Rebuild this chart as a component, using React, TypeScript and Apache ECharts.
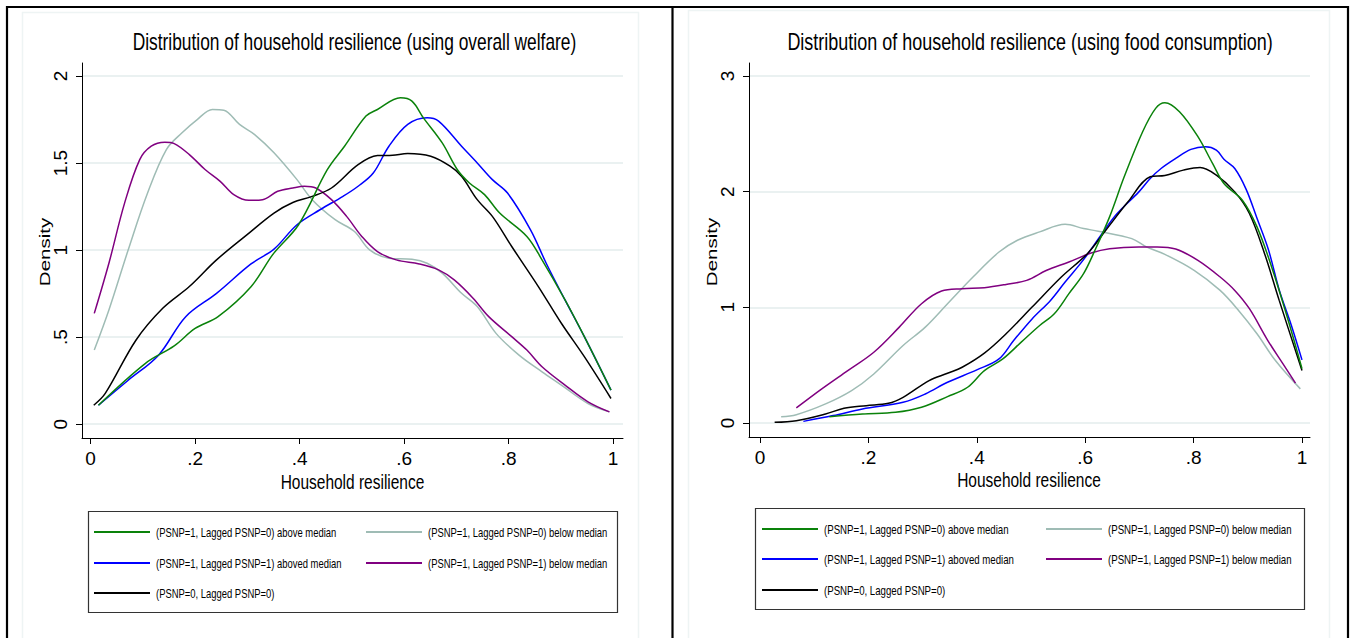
import React, { useEffect, useRef } from "react";
import * as echarts from "echarts";

// ---------- Data ----------
const xTicks = [0, 0.2, 0.4, 0.6, 0.8, 1];
const yTicksWelfare = [0, 0.5, 1, 1.5, 2];
const yTicksFood = [0, 1, 2, 3];

const seriesNames = [
  "(PSNP=1, Lagged PSNP=0) above median",
  "(PSNP=1, Lagged PSNP=0) below median",
  "(PSNP=1, Lagged PSNP=1) aboved median",
  "(PSNP=1, Lagged PSNP=1) below median",
  "(PSNP=0, Lagged PSNP=0)",
];
const seriesColors = ["#0a820a", "#9fbcb5", "#0000ff", "#800080", "#000000"];

// Left panel: overall welfare
const welfareGreenAbove = [
  [0.015, 0.109], [0.105, 0.35], [0.16, 0.45], [0.2, 0.55], [0.244, 0.618], [0.307, 0.79],
  [0.35, 0.98], [0.398, 1.146], [0.453, 1.462], [0.486, 1.597], [0.527, 1.77], [0.549, 1.808],
  [0.593, 1.875], [0.615, 1.856], [0.637, 1.76], [0.673, 1.616], [0.702, 1.462], [0.725, 1.386],
  [0.754, 1.319], [0.783, 1.213], [0.835, 1.079], [0.864, 0.944], [0.908, 0.714], [0.945, 0.503],
  [0.996, 0.196],
];
const welfareGrayBelow = [
  [0.007, 0.426], [0.035, 0.656], [0.072, 1.002], [0.109, 1.328], [0.145, 1.578], [0.175, 1.674],
  [0.204, 1.75], [0.233, 1.808], [0.255, 1.804], [0.285, 1.722], [0.314, 1.664], [0.351, 1.559],
  [0.395, 1.405], [0.424, 1.29], [0.468, 1.175], [0.505, 1.107], [0.534, 1.002], [0.571, 0.954],
  [0.615, 0.948], [0.644, 0.925], [0.673, 0.868], [0.71, 0.752], [0.74, 0.676], [0.776, 0.522],
  [0.82, 0.397], [0.864, 0.301], [0.901, 0.225], [0.952, 0.119], [0.993, 0.071],
];
const welfareBlueAbove = [
  [0.015, 0.109], [0.072, 0.253], [0.13, 0.397], [0.182, 0.618], [0.241, 0.752], [0.307, 0.921],
  [0.351, 1.006], [0.395, 1.146], [0.439, 1.232], [0.483, 1.309], [0.512, 1.367], [0.541, 1.443],
  [0.571, 1.597], [0.607, 1.722], [0.644, 1.76], [0.666, 1.741], [0.71, 1.597], [0.74, 1.501],
  [0.769, 1.405], [0.798, 1.328], [0.842, 1.117], [0.872, 0.925], [0.908, 0.714], [0.945, 0.503],
  [0.996, 0.196],
];
const welfarePurpleBelow = [
  [0.007, 0.637], [0.035, 0.925], [0.065, 1.27], [0.094, 1.52], [0.116, 1.597], [0.142, 1.62],
  [0.16, 1.612], [0.189, 1.549], [0.219, 1.463], [0.248, 1.395], [0.274, 1.319], [0.303, 1.286],
  [0.329, 1.29], [0.358, 1.338], [0.387, 1.357], [0.409, 1.367], [0.431, 1.357], [0.461, 1.29],
  [0.49, 1.194], [0.519, 1.079], [0.549, 0.992], [0.585, 0.944], [0.629, 0.921], [0.666, 0.887],
  [0.696, 0.829], [0.732, 0.724], [0.762, 0.618], [0.806, 0.503], [0.835, 0.426], [0.864, 0.33],
  [0.908, 0.225], [0.952, 0.129], [0.993, 0.071],
];
const welfareBlack = [
  [0.006, 0.109], [0.028, 0.177], [0.087, 0.484], [0.138, 0.666], [0.189, 0.791], [0.241, 0.944],
  [0.299, 1.088], [0.351, 1.213], [0.387, 1.274], [0.424, 1.309], [0.461, 1.357], [0.512, 1.491],
  [0.549, 1.543], [0.578, 1.545], [0.607, 1.555], [0.651, 1.539], [0.688, 1.482], [0.71, 1.424],
  [0.74, 1.29], [0.769, 1.194], [0.806, 1.021], [0.857, 0.791], [0.901, 0.58], [0.945, 0.388],
  [0.996, 0.148],
];

// Right panel: food consumption
const foodGreenAbove = [
  [0.128, 0.055], [0.189, 0.078], [0.25, 0.092], [0.298, 0.136], [0.346, 0.228], [0.383, 0.309],
  [0.414, 0.453], [0.448, 0.554], [0.482, 0.699], [0.516, 0.843], [0.543, 0.944], [0.57, 1.118],
  [0.597, 1.291], [0.618, 1.493], [0.645, 1.782], [0.672, 2.128], [0.706, 2.518], [0.73, 2.72],
  [0.747, 2.769], [0.774, 2.691], [0.808, 2.475], [0.835, 2.244], [0.856, 2.07], [0.89, 1.926],
  [0.917, 1.695], [0.944, 1.349], [0.971, 0.944], [1.0, 0.47],
];
const foodGrayBelow = [
  [0.039, 0.055], [0.067, 0.072], [0.121, 0.165], [0.169, 0.28], [0.21, 0.424], [0.264, 0.67],
  [0.305, 0.829], [0.346, 1.031], [0.393, 1.262], [0.441, 1.478], [0.475, 1.58], [0.516, 1.652],
  [0.563, 1.718], [0.597, 1.681], [0.624, 1.658], [0.686, 1.594], [0.713, 1.522], [0.747, 1.458],
  [0.801, 1.32], [0.849, 1.146], [0.883, 0.973], [0.917, 0.771], [0.951, 0.54], [0.997, 0.295],
];
const foodBlueAbove = [
  [0.08, 0.014], [0.135, 0.064], [0.189, 0.121], [0.264, 0.179], [0.305, 0.251], [0.346, 0.352],
  [0.4, 0.459], [0.441, 0.554], [0.468, 0.713], [0.502, 0.9], [0.536, 1.06], [0.563, 1.219],
  [0.597, 1.412], [0.631, 1.637], [0.659, 1.811], [0.699, 1.998], [0.72, 2.114], [0.74, 2.2],
  [0.767, 2.287], [0.795, 2.365], [0.822, 2.388], [0.842, 2.359], [0.856, 2.28], [0.876, 2.2],
  [0.897, 2.02], [0.917, 1.77], [0.938, 1.5], [0.958, 1.15], [0.98, 0.85], [1.0, 0.546],
];
const foodPurpleBelow = [
  [0.067, 0.13], [0.114, 0.295], [0.162, 0.453], [0.21, 0.612], [0.257, 0.829], [0.298, 1.031],
  [0.335, 1.141], [0.373, 1.161], [0.414, 1.17], [0.454, 1.198], [0.492, 1.233], [0.529, 1.32],
  [0.57, 1.392], [0.611, 1.47], [0.645, 1.507], [0.699, 1.522], [0.733, 1.522], [0.767, 1.504],
  [0.808, 1.406], [0.849, 1.262], [0.876, 1.146], [0.903, 0.988], [0.937, 0.713], [0.965, 0.511],
  [0.988, 0.344],
];
const foodBlack = [
  [0.027, 0.006], [0.067, 0.02], [0.121, 0.078], [0.155, 0.127], [0.196, 0.15], [0.237, 0.17],
  [0.264, 0.222], [0.312, 0.367], [0.346, 0.43], [0.373, 0.482], [0.414, 0.604], [0.454, 0.771],
  [0.502, 1.002], [0.556, 1.262], [0.604, 1.464], [0.638, 1.666], [0.679, 1.912], [0.72, 2.128],
  [0.747, 2.14], [0.781, 2.186], [0.812, 2.209], [0.842, 2.143], [0.876, 1.998], [0.903, 1.811],
  [0.931, 1.464], [0.958, 1.06], [1.0, 0.453],
];

const welfareData = [welfareGreenAbove, welfareGrayBelow, welfareBlueAbove, welfarePurpleBelow, welfareBlack];
const foodData = [foodGreenAbove, foodGrayBelow, foodBlueAbove, foodPurpleBelow, foodBlack];

const titleWelfare = "Distribution of household resilience (using overall welfare)";
const titleFood = "Distribution of household resilience (using food consumption)";
const xName = "Household resilience";
const yName = "Density";

// ---------- Styling ----------
const FONT = "'Liberation Sans', Arial, Helvetica, sans-serif";
const GRID_COLOR = "#e3eded";
const SQUASH = 0.755; // horizontal compression of the original export

const fmt = (v: number) => {
  if (v === 0) return "0";
  const s = String(Math.round(v * 1000) / 1000);
  return s.startsWith("0.") ? s.slice(1) : s;
};

export default function App() {
  const ref = useRef<HTMLDivElement>(null);

  useEffect(() => {
    if (!ref.current) return;
    const chart = echarts.init(ref.current, null, { renderer: "svg" });

    const panels = [
      { grid: { left: 82, top: 63, width: 541, height: 375 }, xmin: -0.0165, xmax: 1.019, ymin: -0.079, ymax: 2.075, yTicks: yTicksWelfare, data: welfareData },
      { grid: { left: 749, top: 63, width: 561, height: 374 }, xmin: -0.0203, xmax: 1.0148, ymin: -0.121, ymax: 3.112, yTicks: yTicksFood, data: foodData },
    ];

    const axisText = { fontFamily: FONT, fontSize: 19, color: "#000" };

    const xAxis = panels.map((p, i) => ({
      type: "value",
      gridIndex: i,
      min: p.xmin,
      max: p.xmax,
      axisLine: { show: true, onZero: false, lineStyle: { color: "#000", width: 1 } },
      axisTick: { show: true, length: 6, customValues: xTicks, lineStyle: { color: "#000" } },
      axisLabel: { show: true, customValues: xTicks, formatter: fmt, margin: 11, ...axisText },
      splitLine: { show: false },
    }));

    const yAxis = panels.map((p, i) => ({
      type: "value",
      gridIndex: i,
      min: p.ymin,
      max: p.ymax,
      axisLine: { show: true, onZero: false, lineStyle: { color: "#000", width: 1 } },
      axisTick: { show: true, length: 6, customValues: p.yTicks, lineStyle: { color: "#000" } },
      axisLabel: { show: true, customValues: p.yTicks, formatter: fmt, rotate: 90, margin: 12, ...axisText },
      splitLine: { show: true, lineStyle: { color: GRID_COLOR, width: 1.5 } },
    }));

    const series: any[] = [];
    panels.forEach((p, i) => {
      p.data.forEach((d, k) => {
        series.push({
          type: "line",
          name: seriesNames[k],
          xAxisIndex: i,
          yAxisIndex: i,
          data: d,
          smooth: 0.35,
          showSymbol: false,
          symbol: "none",
          lineStyle: { color: seriesColors[k], width: 1.5 },
          itemStyle: { color: seriesColors[k] },
          z: 3 + (k === 0 ? 1 : 0),
        });
      });
    });

    const txt = (x: number, y: number, text: string, size: number, rotation = 0) => ({
      type: "text",
      x,
      y,
      rotation,
      scaleX: rotation ? 1 : SQUASH,
      scaleY: rotation ? SQUASH : 1,
      style: { text, fontFamily: FONT, fontSize: size, fill: "#000", textAlign: "center", textVerticalAlign: "middle" },
      z: 10,
    });

    // legend (drawn as graphics so the text can be compressed like the original)
    const legendPos = [
      { cols: [94, 366], rows: [532, 563, 593], size: 12.5 },
      { cols: [762, 1046], rows: [529, 559, 590], size: 12.8 },
    ];
    const legendGraphics: any[] = [];
    legendPos.forEach((lp) => {
      seriesNames.forEach((name, k) => {
        const col = k === 4 ? 0 : k % 2;
        const row = Math.floor(k / 2);
        const x = lp.cols[col];
        const y = lp.rows[row];
        legendGraphics.push({
          type: "line",
          shape: { x1: x, y1: y, x2: x + 56, y2: y },
          style: { stroke: seriesColors[k], lineWidth: 2 },
          z: 10,
        });
        legendGraphics.push({
          type: "text",
          x: x + 62,
          y,
          scaleX: SQUASH,
          style: { text: name, fontFamily: FONT, fontSize: lp.size, fill: "#000", textAlign: "left", textVerticalAlign: "middle" },
          z: 10,
        });
      });
    });

    const graphic: any[] = [
      // faint graph regions
      { type: "rect", shape: { x: 22.5, y: 12.5, width: 616, height: 700 }, style: { fill: "#fff", stroke: "#eef4f4", lineWidth: 1.5 }, z: -10 },
      { type: "rect", shape: { x: 688.5, y: 10.5, width: 641, height: 700 }, style: { fill: "#fff", stroke: "#eef4f4", lineWidth: 1.5 }, z: -10 },
      // black frame
      { type: "line", shape: { x1: 6, y1: 7, x2: 1349, y2: 7 }, style: { stroke: "#000", lineWidth: 2.2 }, z: 20 },
      { type: "line", shape: { x1: 7, y1: 6, x2: 7, y2: 640 }, style: { stroke: "#000", lineWidth: 2.2 }, z: 20 },
      { type: "line", shape: { x1: 672.5, y1: 6, x2: 672.5, y2: 640 }, style: { stroke: "#000", lineWidth: 2.2 }, z: 20 },
      { type: "line", shape: { x1: 1348, y1: 6, x2: 1348, y2: 640 }, style: { stroke: "#000", lineWidth: 2.2 }, z: 20 },
      // legend boxes
      { type: "rect", shape: { x: 88.5, y: 511.5, width: 529, height: 101 }, style: { fill: "none", stroke: "#333", lineWidth: 1.2 }, z: 5 },
      { type: "rect", shape: { x: 755.5, y: 508.5, width: 549, height: 101 }, style: { fill: "none", stroke: "#333", lineWidth: 1.2 }, z: 5 },
      // titles
      txt(354.5, 42, titleWelfare, 23),
      txt(1030, 42, titleFood, 23.8),
      // axis names
      txt(352.5, 482, xName, 20.5),
      txt(1029, 480, xName, 20.5),
      txt(45, 252, yName, 20.5, Math.PI / 2),
      txt(712, 252, yName, 20.5, Math.PI / 2),
      ...legendGraphics,
    ];

    chart.setOption({
      animation: false,
      backgroundColor: "#fff",
      grid: panels.map((p) => ({ ...p.grid, containLabel: false })),
      xAxis,
      yAxis,
      series,
      graphic,
    });

    return () => chart.dispose();
  }, []);

  return (
    <div
      ref={ref}
      style={{ position: "fixed", left: 0, top: 0, width: 1358, height: 638, background: "#fff" }}
    />
  );
}
